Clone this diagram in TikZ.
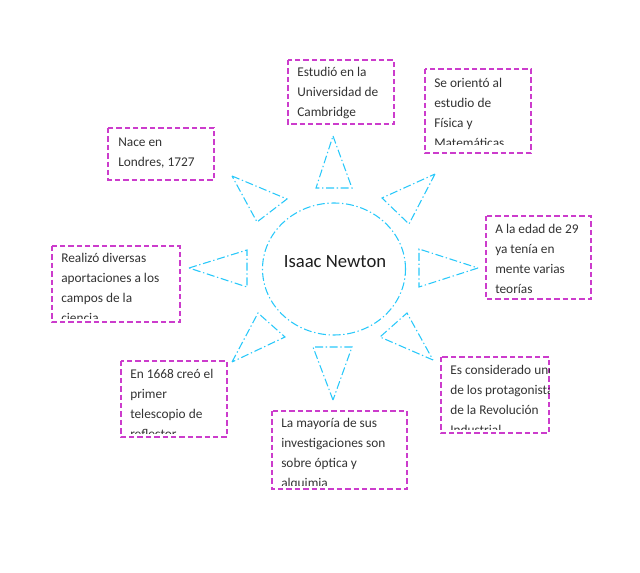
\documentclass[tikz,border=0pt]{standalone}
\usepackage{fontspec}
\setmainfont{Carlito}
\usetikzlibrary{shapes.geometric}
\definecolor{boxmag}{RGB}{204,60,204}
\definecolor{raycyan}{RGB}{40,200,250}
\definecolor{txtgray}{RGB}{50,50,50}
\tikzset{
  boxline/.style={draw=boxmag, line width=1.1pt, dash pattern=on 4pt off 2.3pt},
  ray/.style={draw=raycyan, line width=0.8pt, dash pattern=on 6pt off 2pt on 1pt off 2pt},
  txt/.style={anchor=base west, inner sep=0pt, text=txtgray, font=\fontsize{10}{15}\selectfont},
}
\newcommand{\boxtext}[1]{\parbox[t]{4cm}{\raggedright #1}}
\begin{document}
\begin{tikzpicture}[x=0.75pt,y=-0.75pt]
\useasboundingbox (0,0) rectangle (640,573);
% central ellipse
\node[ray, ellipse, minimum width=107.25pt, minimum height=99pt, inner sep=0pt] (c) at (334,269) {};
\node[inner sep=0pt, text=txtgray!60!black, font=\fontsize{14}{16}\selectfont] (name) at (335,262) {Isaac Newton};
% triangles (rays)
\draw[ray] (333,136) -- (352,188) -- (316,188) -- cycle;
\draw[ray] (232,176) -- (287,199) -- (257,222) -- cycle;
\draw[ray] (435,174) -- (409,224) -- (382,198) -- cycle;
\draw[ray] (478,268) -- (419,287) -- (419,249) -- cycle;
\draw[ray] (189,268) -- (247,250) -- (247,287) -- cycle;
\draw[ray] (232,362) -- (258,313) -- (285,337) -- cycle;
\draw[ray] (333,400) -- (313,347) -- (352,347) -- cycle;
\draw[ray] (433,360) -- (380,337) -- (407,313) -- cycle;
% boxes
% 1
\draw[boxline] (288,60) rectangle (394,124);
\begin{scope}\clip (288,60) rectangle (394,121);
\node[txt] (t1) at (297,77) {\boxtext{Estudió en la\\Universidad de\\Cambridge}};
\end{scope}
% 2
\draw[boxline] (425,69) rectangle (531,153);
\begin{scope}\clip (425,69) rectangle (531,145);
\node[txt] (t2) at (434,88) {\boxtext{Se orientó al\\estudio de\\Física y\\Matemáticas}};
\end{scope}
% 3
\draw[boxline] (108,128) rectangle (214,180);
\begin{scope}\clip (108,128) rectangle (214,177);
\node[txt] (t3) at (118,147) {\boxtext{Nace en\\Londres, 1727}};
\end{scope}
% 4
\draw[boxline] (52,246) rectangle (180,322);
\begin{scope}\clip (52,246) rectangle (180,319);
\node[txt] (t4) at (61,263) {\boxtext{Realizó diversas\\aportaciones a los\\campos de la\\ciencia}};
\end{scope}
% 5
\draw[boxline] (486,216) rectangle (591,299);
\begin{scope}\clip (486,216) rectangle (591,296);
\node[txt] (t5) at (495,234) {\boxtext{A la edad de 29\\ya tenía en\\mente varias\\teorías}};
\end{scope}
% 6
\draw[boxline] (441,357) rectangle (549,433);
\begin{scope}\clip (441,357) rectangle (549,430);
\node[txt] (t6) at (450,375) {\boxtext{Es considerado uno\\de los protagonistas\\de la Revolución\\Industrial}};
\end{scope}
% 7
\draw[boxline] (121,361) rectangle (227,437);
\begin{scope}\clip (121,361) rectangle (227,434);
\node[txt] (t7) at (130,379) {\boxtext{En 1668 creó el\\primer\\telescopio de\\reflector}};
\end{scope}
% 8
\draw[boxline] (272,411) rectangle (407,489);
\begin{scope}\clip (272,411) rectangle (407,486);
\node[txt] (t8) at (281,428) {\boxtext{La mayoría de sus\\investigaciones son\\sobre óptica y\\alquimia}};
\end{scope}
\end{tikzpicture}
\end{document}
